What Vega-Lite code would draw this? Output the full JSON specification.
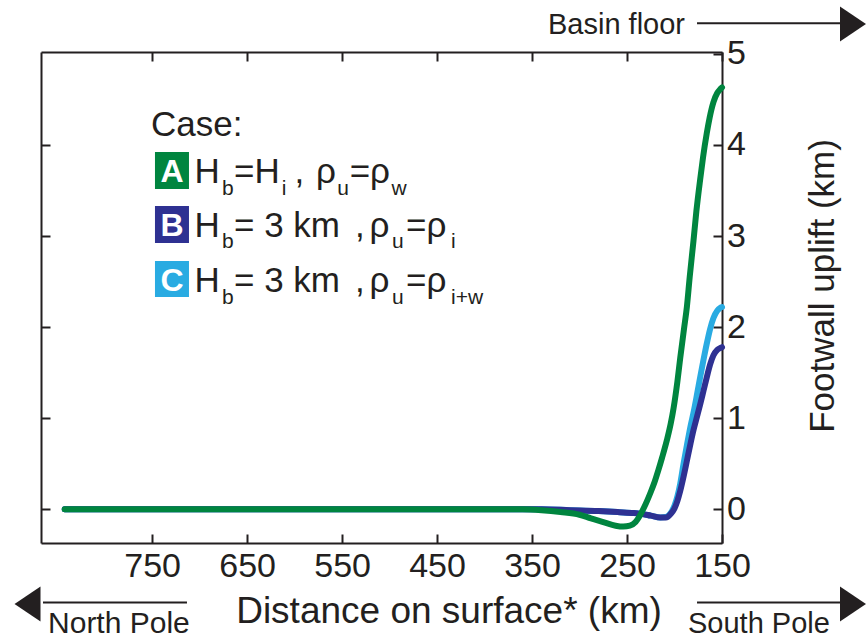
{
  "$schema": "https://vega.github.io/schema/vega-lite/v6.json",
  "width": 681,
  "height": 491,
  "autosize": {"type": "none"},
  "padding": {"left": 41, "top": 52, "right": 144, "bottom": 95},
  "background": "white",
  "config": {
    "view": {"stroke": null},
    "font": "Liberation Sans",
    "axis": {
      "grid": false,
      "domainColor": "#231f20",
      "domainWidth": 2,
      "tickColor": "#231f20",
      "tickWidth": 2,
      "tickSize": -9,
      "labelFont": "Liberation Sans",
      "labelFontSize": 34,
      "labelColor": "#231f20",
      "labelFlush": false,
      "labelOverlap": false,
      "titleFont": "Liberation Sans",
      "titleFontWeight": "normal",
      "titleColor": "#231f20"
    },
    "text": {"font": "Liberation Sans", "fontSize": 35, "color": "#231f20", "align": "left", "baseline": "alphabetic"}
  },
  "datasets": {
    "curves": [
      {"case": "C", "km": 842, "uplift": 0}, {"case": "C", "km": 700, "uplift": 0}, {"case": "C", "km": 560, "uplift": 0},
      {"case": "C", "km": 420, "uplift": 0}, {"case": "C", "km": 340, "uplift": 0}, {"case": "C", "km": 310, "uplift": -0.01},
      {"case": "C", "km": 280, "uplift": -0.02}, {"case": "C", "km": 260, "uplift": -0.03}, {"case": "C", "km": 245, "uplift": -0.04},
      {"case": "C", "km": 235, "uplift": -0.05}, {"case": "C", "km": 225, "uplift": -0.07}, {"case": "C", "km": 215, "uplift": -0.09},
      {"case": "C", "km": 209, "uplift": -0.085}, {"case": "C", "km": 204, "uplift": -0.04}, {"case": "C", "km": 200, "uplift": 0.04},
      {"case": "C", "km": 197, "uplift": 0.14}, {"case": "C", "km": 194, "uplift": 0.28}, {"case": "C", "km": 190.5, "uplift": 0.5},
      {"case": "C", "km": 187, "uplift": 0.7}, {"case": "C", "km": 183, "uplift": 0.92}, {"case": "C", "km": 180, "uplift": 1.06},
      {"case": "C", "km": 176.5, "uplift": 1.25}, {"case": "C", "km": 173, "uplift": 1.45}, {"case": "C", "km": 169.5, "uplift": 1.64},
      {"case": "C", "km": 166, "uplift": 1.82}, {"case": "C", "km": 162.5, "uplift": 1.98}, {"case": "C", "km": 159, "uplift": 2.1},
      {"case": "C", "km": 155, "uplift": 2.18}, {"case": "C", "km": 152, "uplift": 2.21}, {"case": "C", "km": 150, "uplift": 2.22},
      {"case": "B", "km": 842, "uplift": 0}, {"case": "B", "km": 700, "uplift": 0}, {"case": "B", "km": 560, "uplift": 0},
      {"case": "B", "km": 420, "uplift": 0}, {"case": "B", "km": 340, "uplift": 0}, {"case": "B", "km": 310, "uplift": -0.01},
      {"case": "B", "km": 280, "uplift": -0.02}, {"case": "B", "km": 260, "uplift": -0.03}, {"case": "B", "km": 245, "uplift": -0.04},
      {"case": "B", "km": 235, "uplift": -0.05}, {"case": "B", "km": 225, "uplift": -0.07}, {"case": "B", "km": 215, "uplift": -0.09},
      {"case": "B", "km": 209, "uplift": -0.09}, {"case": "B", "km": 204, "uplift": -0.05}, {"case": "B", "km": 200, "uplift": 0.01},
      {"case": "B", "km": 197, "uplift": 0.09}, {"case": "B", "km": 194, "uplift": 0.2}, {"case": "B", "km": 190, "uplift": 0.38},
      {"case": "B", "km": 187, "uplift": 0.53}, {"case": "B", "km": 183, "uplift": 0.73}, {"case": "B", "km": 180, "uplift": 0.87},
      {"case": "B", "km": 176.5, "uplift": 1.01}, {"case": "B", "km": 173, "uplift": 1.15}, {"case": "B", "km": 169.5, "uplift": 1.3},
      {"case": "B", "km": 166, "uplift": 1.45}, {"case": "B", "km": 162.5, "uplift": 1.59}, {"case": "B", "km": 159, "uplift": 1.69},
      {"case": "B", "km": 155, "uplift": 1.75}, {"case": "B", "km": 152, "uplift": 1.77}, {"case": "B", "km": 150, "uplift": 1.78},
      {"case": "A", "km": 842, "uplift": 0}, {"case": "A", "km": 700, "uplift": 0}, {"case": "A", "km": 560, "uplift": 0},
      {"case": "A", "km": 420, "uplift": 0}, {"case": "A", "km": 360, "uplift": 0}, {"case": "A", "km": 340, "uplift": -0.01},
      {"case": "A", "km": 320, "uplift": -0.03}, {"case": "A", "km": 300, "uplift": -0.06}, {"case": "A", "km": 288, "uplift": -0.1},
      {"case": "A", "km": 275, "uplift": -0.14}, {"case": "A", "km": 262, "uplift": -0.18}, {"case": "A", "km": 254, "uplift": -0.19},
      {"case": "A", "km": 247, "uplift": -0.18}, {"case": "A", "km": 241, "uplift": -0.14}, {"case": "A", "km": 237, "uplift": -0.08},
      {"case": "A", "km": 233, "uplift": 0.0}, {"case": "A", "km": 229, "uplift": 0.09}, {"case": "A", "km": 225, "uplift": 0.19},
      {"case": "A", "km": 221, "uplift": 0.3}, {"case": "A", "km": 217, "uplift": 0.43}, {"case": "A", "km": 213, "uplift": 0.57},
      {"case": "A", "km": 208, "uplift": 0.76}, {"case": "A", "km": 204, "uplift": 0.94}, {"case": "A", "km": 201, "uplift": 1.11},
      {"case": "A", "km": 197, "uplift": 1.4}, {"case": "A", "km": 194, "uplift": 1.66}, {"case": "A", "km": 190, "uplift": 1.98},
      {"case": "A", "km": 187, "uplift": 2.22}, {"case": "A", "km": 184, "uplift": 2.55}, {"case": "A", "km": 180, "uplift": 2.95},
      {"case": "A", "km": 177, "uplift": 3.27}, {"case": "A", "km": 173, "uplift": 3.62}, {"case": "A", "km": 170, "uplift": 3.86},
      {"case": "A", "km": 166, "uplift": 4.13}, {"case": "A", "km": 163, "uplift": 4.3}, {"case": "A", "km": 159, "uplift": 4.47},
      {"case": "A", "km": 155, "uplift": 4.57}, {"case": "A", "km": 152, "uplift": 4.61}, {"case": "A", "km": 150, "uplift": 4.63}
    ]
  },
  "data": {"values": [{}]},
  "layer": [
    {
      "data": {"name": "curves"},
      "mark": {"type": "line", "strokeWidth": 6, "strokeCap": "round", "strokeJoin": "round", "interpolate": "monotone"},
      "encoding": {
        "x": {
          "field": "km", "type": "quantitative",
          "scale": {"domain": [150, 867], "reverse": true, "nice": false, "zero": false},
          "axis": {
            "orient": "bottom", "values": [150, 250, 350, 450, 550, 650, 750],
            "labelPadding": 15.5,
            "title": "Distance on surface* (km)", "titleFontSize": 37,
            "titleX": 407.5, "titleY": 79, "titleAlign": "center", "titleBaseline": "alphabetic"
          }
        },
        "y": {
          "field": "uplift", "type": "quantitative",
          "scale": {"domain": [-0.37, 5.02], "nice": false, "zero": false},
          "axis": {
            "orient": "right", "values": [0, 1, 2, 3, 4, 5],
            "labelPadding": 13.6, "labelAlign": "left", "labelBaseline": "middle",
            "title": "Footwall uplift (km)", "titleFontSize": 35, "titleAngle": 270,
            "titleX": 111, "titleY": 233.5, "titleAlign": "center", "titleBaseline": "alphabetic"
          }
        },
        "color": {
          "field": "case", "type": "nominal",
          "scale": {"domain": ["A", "B", "C"], "range": ["#00853f", "#2e3192", "#29abe2"]},
          "legend": null
        }
      }
    },
    {
      "mark": {"type": "rule", "strokeWidth": 2, "color": "#231f20", "clip": false},
      "encoding": {
        "x": {
          "datum": 176.3, "type": "quantitative",
          "scale": {"domain": [150, 867], "reverse": true, "nice": false, "zero": false},
          "axis": {"orient": "top", "values": [150, 250, 350, 450, 550, 650, 750], "labels": false, "title": null}
        },
        "x2": {"datum": 20.5},
        "y": {
          "datum": 5.335, "type": "quantitative",
          "scale": {"domain": [-0.37, 5.02], "nice": false, "zero": false},
          "axis": {"orient": "left", "values": [0, 1, 2, 3, 4], "labels": false, "title": null}
        }
      }
    },
    {
      "mark": {"type": "rule", "strokeWidth": 2, "color": "#231f20", "clip": false},
      "encoding": {
        "x": {"datum": 864.9, "type": "quantitative", "axis": null},
        "x2": {"datum": 713.3},
        "y": {"datum": -1.023, "type": "quantitative", "axis": null}
      }
    },
    {
      "mark": {"type": "rule", "strokeWidth": 2, "color": "#231f20", "clip": false},
      "encoding": {
        "x": {"datum": 176.3, "type": "quantitative", "axis": null},
        "x2": {"datum": 23.7},
        "y": {"datum": -1.023, "type": "quantitative", "axis": null}
      }
    },
    {
      "mark": {"type": "point", "shape": "M-1,-1.35L1,0L-1,1.35Z", "size": 676, "filled": true, "opacity": 1, "color": "#231f20", "clip": false},
      "encoding": {
        "x": {"datum": 12.1, "type": "quantitative", "axis": null},
        "y": {"datum": 5.328, "type": "quantitative", "axis": null}
      }
    },
    {
      "mark": {"type": "point", "shape": "M-1,-1.35L1,0L-1,1.35Z", "size": 676, "filled": true, "opacity": 1, "color": "#231f20", "clip": false},
      "encoding": {
        "x": {"datum": 12.1, "type": "quantitative", "axis": null},
        "y": {"datum": -1.04, "type": "quantitative", "axis": null}
      }
    },
    {
      "mark": {"type": "point", "shape": "M1,-1.35L-1,0L1,1.35Z", "size": 676, "filled": true, "opacity": 1, "color": "#231f20", "clip": false},
      "encoding": {
        "x": {"datum": 881.2, "type": "quantitative", "axis": null},
        "y": {"datum": -1.04, "type": "quantitative", "axis": null}
      }
    },
    {
      "mark": {"type": "text", "text": "Basin floor", "fontSize": 29, "clip": false},
      "encoding": {"x": {"datum": 333.2, "type": "quantitative", "axis": null}, "y": {"datum": 5.215, "type": "quantitative", "axis": null}}
    },
    {
      "mark": {"type": "text", "text": "North Pole", "fontSize": 30, "clip": false},
      "encoding": {"x": {"datum": 859.6, "type": "quantitative", "axis": null}, "y": {"datum": -1.358, "type": "quantitative", "axis": null}}
    },
    {
      "mark": {"type": "text", "text": "South Pole", "fontSize": 29, "clip": false},
      "encoding": {"x": {"datum": 185.8, "type": "quantitative", "axis": null}, "y": {"datum": -1.358, "type": "quantitative", "axis": null}}
    },
    {
      "mark": {"type": "text", "text": "Case:"},
      "encoding": {"x": {"datum": 751.2, "type": "quantitative", "axis": null}, "y": {"datum": 4.098, "type": "quantitative", "axis": null}}
    },
    {
      "mark": {"type": "rect", "color": "#00853f"},
      "encoding": {"x": {"datum": 747.0, "type": "quantitative", "axis": null}, "x2": {"datum": 711.2}, "y": {"datum": 3.922, "type": "quantitative", "axis": null}, "y2": {"datum": 3.516}}
    },
    {
      "mark": {"type": "rect", "color": "#2e3192"},
      "encoding": {"x": {"datum": 747.0, "type": "quantitative", "axis": null}, "x2": {"datum": 711.2}, "y": {"datum": 3.33, "type": "quantitative", "axis": null}, "y2": {"datum": 2.924}}
    },
    {
      "mark": {"type": "rect", "color": "#29abe2"},
      "encoding": {"x": {"datum": 747.0, "type": "quantitative", "axis": null}, "x2": {"datum": 711.2}, "y": {"datum": 2.726, "type": "quantitative", "axis": null}, "y2": {"datum": 2.331}}
    },
    {
      "mark": {"type": "text", "text": "A", "align": "center", "fontWeight": "bold", "fontSize": 32, "color": "white"},
      "encoding": {"x": {"datum": 729.1, "type": "quantitative", "axis": null}, "y": {"datum": 3.588, "type": "quantitative", "axis": null}}
    },
    {
      "mark": {"type": "text", "text": "B", "align": "center", "fontWeight": "bold", "fontSize": 32, "color": "white"},
      "encoding": {"x": {"datum": 729.1, "type": "quantitative", "axis": null}, "y": {"datum": 2.995, "type": "quantitative", "axis": null}}
    },
    {
      "mark": {"type": "text", "text": "C", "align": "center", "fontWeight": "bold", "fontSize": 32, "color": "white"},
      "encoding": {"x": {"datum": 729.1, "type": "quantitative", "axis": null}, "y": {"datum": 2.397, "type": "quantitative", "axis": null}}
    },
    {"mark": {"type": "text", "text": "H"}, "encoding": {"x": {"datum": 705.3, "type": "quantitative", "axis": null}, "y": {"datum": 3.579, "type": "quantitative", "axis": null}}},
    {"mark": {"type": "text", "text": "b", "fontSize": 21}, "encoding": {"x": {"datum": 676.4, "type": "quantitative", "axis": null}, "y": {"datum": 3.45, "type": "quantitative", "axis": null}}},
    {"mark": {"type": "text", "text": "=H"}, "encoding": {"x": {"datum": 663.8, "type": "quantitative", "axis": null}, "y": {"datum": 3.579, "type": "quantitative", "axis": null}}},
    {"mark": {"type": "text", "text": "i", "fontSize": 21}, "encoding": {"x": {"datum": 613.5, "type": "quantitative", "axis": null}, "y": {"datum": 3.45, "type": "quantitative", "axis": null}}},
    {"mark": {"type": "text", "text": ","}, "encoding": {"x": {"datum": 600.1, "type": "quantitative", "axis": null}, "y": {"datum": 3.579, "type": "quantitative", "axis": null}}},
    {"mark": {"type": "text", "text": "ρ"}, "encoding": {"x": {"datum": 577.5, "type": "quantitative", "axis": null}, "y": {"datum": 3.579, "type": "quantitative", "axis": null}}},
    {"mark": {"type": "text", "text": "u", "fontSize": 21}, "encoding": {"x": {"datum": 555.0, "type": "quantitative", "axis": null}, "y": {"datum": 3.45, "type": "quantitative", "axis": null}}},
    {"mark": {"type": "text", "text": "=ρ"}, "encoding": {"x": {"datum": 542.0, "type": "quantitative", "axis": null}, "y": {"datum": 3.579, "type": "quantitative", "axis": null}}},
    {"mark": {"type": "text", "text": "w", "fontSize": 21}, "encoding": {"x": {"datum": 498.0, "type": "quantitative", "axis": null}, "y": {"datum": 3.45, "type": "quantitative", "axis": null}}},
    {"mark": {"type": "text", "text": "H"}, "encoding": {"x": {"datum": 705.4, "type": "quantitative", "axis": null}, "y": {"datum": 2.993, "type": "quantitative", "axis": null}}},
    {"mark": {"type": "text", "text": "b", "fontSize": 21}, "encoding": {"x": {"datum": 676.4, "type": "quantitative", "axis": null}, "y": {"datum": 2.863, "type": "quantitative", "axis": null}}},
    {"mark": {"type": "text", "text": "= 3 km"}, "encoding": {"x": {"datum": 663.8, "type": "quantitative", "axis": null}, "y": {"datum": 2.993, "type": "quantitative", "axis": null}}},
    {"mark": {"type": "text", "text": ","}, "encoding": {"x": {"datum": 536.4, "type": "quantitative", "axis": null}, "y": {"datum": 2.993, "type": "quantitative", "axis": null}}},
    {"mark": {"type": "text", "text": "ρ"}, "encoding": {"x": {"datum": 521.1, "type": "quantitative", "axis": null}, "y": {"datum": 2.993, "type": "quantitative", "axis": null}}},
    {"mark": {"type": "text", "text": "u", "fontSize": 21}, "encoding": {"x": {"datum": 497.4, "type": "quantitative", "axis": null}, "y": {"datum": 2.863, "type": "quantitative", "axis": null}}},
    {"mark": {"type": "text", "text": "=ρ"}, "encoding": {"x": {"datum": 482.7, "type": "quantitative", "axis": null}, "y": {"datum": 2.993, "type": "quantitative", "axis": null}}},
    {"mark": {"type": "text", "text": "i", "fontSize": 21}, "encoding": {"x": {"datum": 435.3, "type": "quantitative", "axis": null}, "y": {"datum": 2.863, "type": "quantitative", "axis": null}}},
    {"mark": {"type": "text", "text": "H"}, "encoding": {"x": {"datum": 705.4, "type": "quantitative", "axis": null}, "y": {"datum": 2.389, "type": "quantitative", "axis": null}}},
    {"mark": {"type": "text", "text": "b", "fontSize": 21}, "encoding": {"x": {"datum": 676.4, "type": "quantitative", "axis": null}, "y": {"datum": 2.259, "type": "quantitative", "axis": null}}},
    {"mark": {"type": "text", "text": "= 3 km"}, "encoding": {"x": {"datum": 663.8, "type": "quantitative", "axis": null}, "y": {"datum": 2.389, "type": "quantitative", "axis": null}}},
    {"mark": {"type": "text", "text": ","}, "encoding": {"x": {"datum": 536.4, "type": "quantitative", "axis": null}, "y": {"datum": 2.389, "type": "quantitative", "axis": null}}},
    {"mark": {"type": "text", "text": "ρ"}, "encoding": {"x": {"datum": 521.1, "type": "quantitative", "axis": null}, "y": {"datum": 2.389, "type": "quantitative", "axis": null}}},
    {"mark": {"type": "text", "text": "u", "fontSize": 21}, "encoding": {"x": {"datum": 497.4, "type": "quantitative", "axis": null}, "y": {"datum": 2.259, "type": "quantitative", "axis": null}}},
    {"mark": {"type": "text", "text": "=ρ"}, "encoding": {"x": {"datum": 482.7, "type": "quantitative", "axis": null}, "y": {"datum": 2.389, "type": "quantitative", "axis": null}}},
    {"mark": {"type": "text", "text": "i+w", "fontSize": 21}, "encoding": {"x": {"datum": 435.3, "type": "quantitative", "axis": null}, "y": {"datum": 2.259, "type": "quantitative", "axis": null}}}
  ],
  "resolve": {"axis": {"x": "independent", "y": "independent"}}
}
